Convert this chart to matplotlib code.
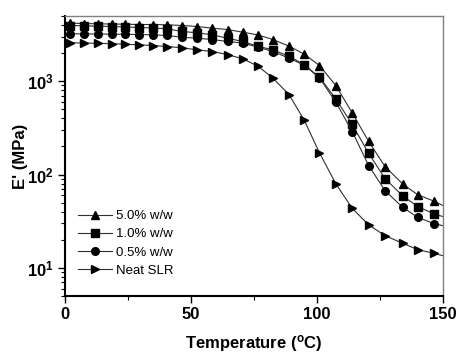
import matplotlib.pyplot as plt
from matplotlib.ticker import MultipleLocator, LogLocator, NullFormatter

plt.rcParams['font.family'] = ['Liberation Sans', 'DejaVu Sans']
plt.rcParams['mathtext.fontset'] = 'custom'
plt.rcParams['mathtext.rm'] = 'Liberation Sans:bold'
plt.rcParams['mathtext.bf'] = 'Liberation Sans:bold'
plt.rcParams['mathtext.it'] = 'Liberation Sans:bold'

# temperature (C); first and last entries are the line ends, the rest carry markers
temp = [0, 2, 7.5, 13, 18.5, 24, 29.5, 35, 40.5, 46.5, 52.5, 58.5, 64.5, 70.5,
        76.5, 82.5, 89, 95, 101, 107.5, 114, 120.5, 127, 134, 140, 146.5, 150]

e_5 = [4200, 4184, 4153, 4121, 4102, 4083, 4052, 4052, 4022, 3954, 3857, 3698,
       3582, 3350, 3141, 2798, 2372, 1946, 1473, 899, 458, 227, 122, 79.4, 60.8,
       51.8, 46.6]
e_1 = [3970, 3954, 3925, 3886, 3857, 3809, 3763, 3717, 3644, 3411, 3303, 3141,
       2889, 2665, 2372, 2170, 1852, 1500, 1104, 647, 344, 169, 90.6, 59.2, 45.4,
       37.9, 35.5]
e_05 = [3230, 3221, 3213, 3205, 3197, 3181, 3166, 3141, 3090, 2962, 2889, 2798,
        2665, 2566, 2326, 2081, 1764, 1483, 1087, 596, 289, 125, 67.4, 44.6, 34.8,
        29.8, 28.3]
e_neat = [2590, 2580, 2567, 2548, 2523, 2493, 2455, 2413, 2355, 2280, 2170, 2081,
          1932, 1738, 1455, 1082, 714, 380, 171, 79.5, 43.5, 28.9, 22.2, 18.35,
          15.7, 14.3, 13.5]

series = [(e_5, '^', '5.0% w/w'), (e_1, 's', '1.0% w/w'),
          (e_05, 'o', '0.5% w/w'), (e_neat, '>', 'Neat SLR')]

fig = plt.figure(figsize=(4.59, 3.53), dpi=100)
ax = fig.add_axes([0.1416, 0.1615, 0.8234, 0.7932])

for vals, mk, lab in series:
    ax.plot(temp, vals, color='#303030', linewidth=0.8, marker=mk,
            markersize=5.5, markerfacecolor='black', markeredgecolor='black',
            markevery=slice(1, -1), label=lab)

ax.set_yscale('log')
ax.set_xlim(0, 150)
ax.set_ylim(5, 5000)

ax.xaxis.set_minor_locator(MultipleLocator(25))
ax.set_xticks([0, 50, 100, 150])
ax.set_xticklabels(['0', '50', '100', '150'], fontweight='bold', fontsize=12)
ax.set_yticks([10, 100, 1000])
ax.set_yticklabels([r'$\mathbf{10^{1}}$', r'$\mathbf{10^{2}}$', r'$\mathbf{10^{3}}$'],
                   fontsize=12)
ax.yaxis.set_minor_locator(LogLocator(base=10, subs=range(2, 10)))
ax.yaxis.set_minor_formatter(NullFormatter())

ax.tick_params(which='major', direction='out', length=5, width=1, pad=3)
ax.tick_params(which='minor', direction='out', length=3, width=0.8)
ax.tick_params(top=False, right=False, which='both')

for s in ['left', 'bottom']:
    ax.spines[s].set_linewidth(1.5)
    ax.spines[s].set_color('black')
for s in ['top', 'right']:
    ax.spines[s].set_linewidth(1)
    ax.spines[s].set_color('#808080')

ax.set_xlabel(r'Temperature ($^{o}$C)', fontweight='bold', fontsize=12, labelpad=8)
ax.set_ylabel("E' (MPa)", fontweight='bold', fontsize=12, labelpad=-1)

ax.legend(loc='lower left', bbox_to_anchor=(0.02, 0.05), frameon=False,
          fontsize=9.5, handlelength=2.6, labelspacing=0.45, handletextpad=0.3,
          borderaxespad=0)

fig.savefig('out.png', dpi=100)
